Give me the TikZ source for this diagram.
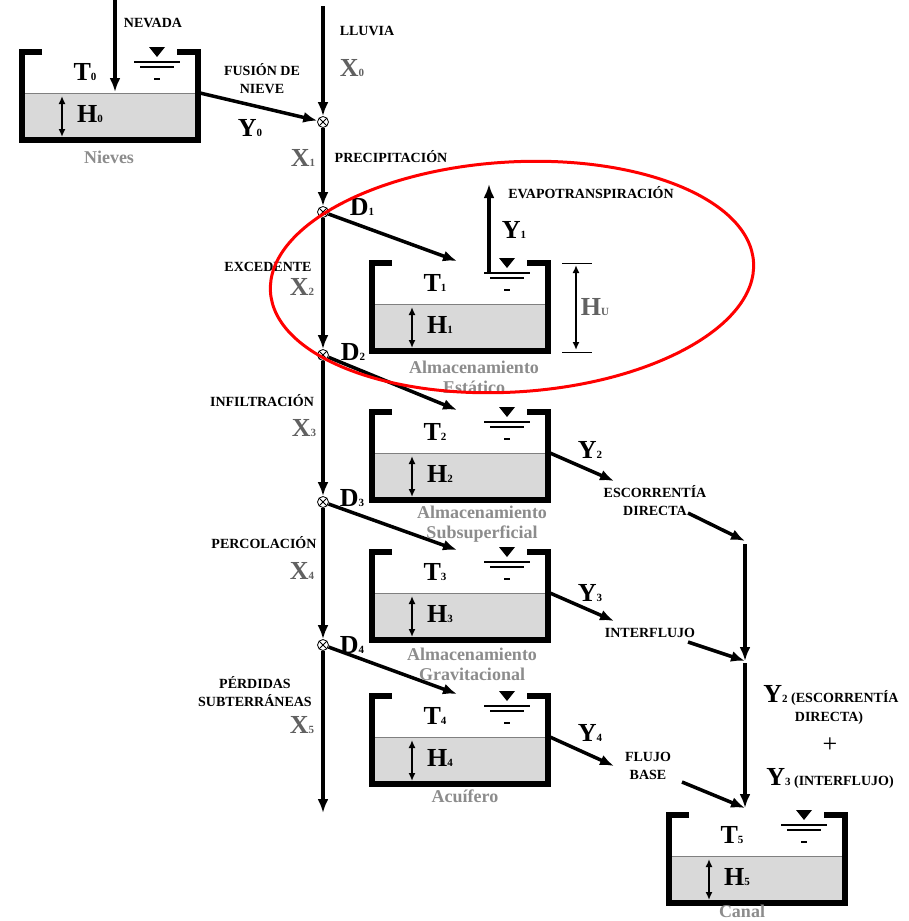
\documentclass[tikz,border=0pt]{standalone}
\usepackage{fontspec}
\setmainfont{Liberation Serif}
\usepackage{tikz}
\usetikzlibrary{arrows.meta}
\usepackage[dvipsnames]{xcolor}

\definecolor{agua}{gray}{0.85}
\definecolor{grisx}{gray}{0.38}
\definecolor{grisley}{gray}{0.55}
\newcommand{\magn}[2]{{\fontsize{26}{27}\selectfont\bfseries #1\fontsize{11}{11}\selectfont #2}}

\begin{document}
\begin{tikzpicture}[>={Latex[length=14pt,width=11pt]},x=1pt,y=-1pt,
  pared/.style={line width=5.5pt,line join=miter},
  flecha/.style={->,line width=3.5pt},
  cota/.style={{Latex[length=8pt,width=7pt]}-{Latex[length=8pt,width=7pt]},line width=1.6pt},
  rot/.style={font=\fontsize{14}{18}\selectfont\bfseries,align=center},
  ley/.style={font=\fontsize{18}{20}\selectfont\bfseries,text=grisley,align=center},
  gx/.style={text=grisx},
  mezcla/.style={circle,draw,line width=0.8pt,fill=white,minimum size=11pt,inner sep=0pt,
    path picture={\draw[line width=0.8pt] (path picture bounding box.north west) -- (path picture bounding box.south east)
      (path picture bounding box.north east) -- (path picture bounding box.south west);}}]
\useasboundingbox (0,0) rectangle (909,921);

% tanques
\foreach \n/\x/\y in {0/22/52,1/372/263,2/372/412,3/372/552,4/372/696,5/669/815}{
  \fill[agua] (\x,\y+41) rectangle (\x+176,\y+88);
  \draw[gray] (\x,\y+41) -- (\x+176,\y+41);
  \draw[pared] (\x+20,\y) -- (\x,\y) -- (\x,\y+88) -- (\x+176,\y+88) -- (\x+176,\y) -- (\x+155,\y);
  \fill (\x+127,\y-5) -- (\x+143,\y-5) -- (\x+135,\y+5) -- cycle;
  \draw[line width=1.5pt] (\x+112,\y+10) -- (\x+158,\y+10) (\x+118,\y+15) -- (\x+152,\y+15)
    (\x+132,\y+27) -- (\x+138,\y+27);
  \draw[cota] (\x+40,\y+44) -- (\x+40,\y+85);
  \node (t\n) at (\x+63,\y+20) {\magn{T}{\n}};
  \node (h\n) at (\x+68,\y+62) {\magn{H}{\n}};
  \coordinate (s\n) at (\x+178,\y+41);
  \coordinate (e\n) at (\x+85,\y-2);
}

% nudos de reparto
\node[mezcla] (m0) at (323,122) {};
\node[mezcla] (d1) at (323,212) {};
\node[mezcla] (d2) at (323,355) {};
\node[mezcla] (d3) at (323,502) {};
\node[mezcla] (d4) at (323,645) {};

\coordinate (nieve) at (115,0);
\coordinate (nivel0) at (115,92);
\coordinate (lluvia) at (323,6);
\coordinate (perdidas) at (323,813);
\coordinate (nivel1) at (489,274);
\coordinate (evapo) at (489,184);
\coordinate (fy2) at (614,481);
\coordinate (fy3) at (614,621);
\coordinate (fy4) at (614,766);
\coordinate (esc) at (688,513);
\coordinate (int) at (688,642);
\coordinate (bas) at (682,782);
\coordinate (c1) at (745,541);
\coordinate (c2) at (745,661);
\coordinate (c3) at (745,808);

\draw[flecha] (nieve) -- (nivel0);
\draw[flecha] (lluvia) -- (m0);
\draw[flecha] (s0) -- (m0);
\draw[flecha] (m0) -- (d1);
\draw[flecha] (d1) -- (d2);
\draw[flecha] (d2) -- (d3);
\draw[flecha] (d3) -- (d4);
\draw[flecha] (d4) -- (perdidas);
\foreach \i in {1,...,4}
  \draw[flecha] (d\i) -- (e\i);
\draw[flecha] (nivel1) -- (evapo);
\foreach \i in {2,3,4}
  \draw[flecha] (s\i) -- (fy\i);
\draw[flecha] (esc) -- (c1);
\draw[flecha,shorten <=3pt] (c1) -- (c2);
\draw[flecha] (int) -- (c2);
\draw[flecha,shorten <=2pt] (c2) -- (c3);
\draw[flecha] (bas) -- (c3);

% altura util
\draw[line width=1pt] (562,263) -- (592,263) (562,352) -- (592,352);
\draw[cota] (576,265) -- (576,350);

% textos
\node[rot] (tnevada) at (153,23) {NEVADA};
\node[rot] (tlluvia) at (367,31) {LLUVIA};
\node[gx] (x0) at (352,68) {\magn{X}{0}};
\node[rot] (tfusion) at (262,79) {FUSIÓN DE\\NIEVE};
\node (y0) at (250,128) {\magn{Y}{0}};
\node[ley] (tnieves) at (109,157) {Nieves};
\node[gx] (x1) at (303,158) {\magn{X}{1}};
\node[rot] (tprecip) at (391,157) {PRECIPITACIÓN};
\node (td1) at (362,207) {\magn{D}{1}};
\node[rot] (tevapo) at (591,193) {EVAPOTRANSPIRACIÓN};
\node (y1) at (514,230) {\magn{Y}{1}};
\node[rot] (texced) at (268,267) {EXCEDENTE};
\node[gx] (x2) at (302,287) {\magn{X}{2}};
\node[gx] (hu) at (595,307) {\magn{H}{U}};
\node (td2) at (353,352) {\magn{D}{2}};
\node[ley] (talm1) at (474,377) {Almacenamiento\\Estático};
\node[rot] (tinfil) at (262,401) {INFILTRACIÓN};
\node[gx] (x3) at (304,428) {\magn{X}{3}};
\node (td3) at (352,498) {\magn{D}{3}};
\node[ley] (talm2) at (482,524) {Almacenamiento\\Subsuperficial};
\node[rot] (tperc) at (264,543) {PERCOLACIÓN};
\node[gx] (x4) at (302,571) {\magn{X}{4}};
\node (td4) at (352,645) {\magn{D}{4}};
\node[ley] (talm3) at (472,664) {Almacenamiento\\Gravitacional};
\node[rot] (tperd) at (255,692) {PÉRDIDAS\\SUBTERRÁNEAS};
\node[gx] (x5) at (302,725) {\magn{X}{5}};
\node[ley] (tacuif) at (465,796) {Acuífero};
\node (y2) at (590,450) {\magn{Y}{2}};
\node[rot] (tescorr) at (655,501) {ESCORRENTÍA\\DIRECTA};
\node (y3) at (590,593) {\magn{Y}{3}};
\node[rot] (tinterf) at (650,633) {INTERFLUJO};
\node (y4) at (590,733) {\magn{Y}{4}};
\node[rot] (tbase) at (648,766) {FLUJO\\BASE};
\node[rot] (suma1) at (831,695) {\magn{Y}{2} (ESCORRENTÍA};
\node[rot] (suma2) at (829,718) {DIRECTA)};
\node (suma3) at (830,745) {\fontsize{26}{27}\selectfont +};
\node[rot] (suma4) at (830,778) {\magn{Y}{3} (INTERFLUJO)};
\node[ley,inner sep=1pt] (tcanal) at (742,911) {Canal};

% zona resaltada
\draw[red,line width=3pt,rotate around={3.5:(512,277)}] (512,277) ellipse [x radius=242,y radius=115];
\end{tikzpicture}
\end{document}
